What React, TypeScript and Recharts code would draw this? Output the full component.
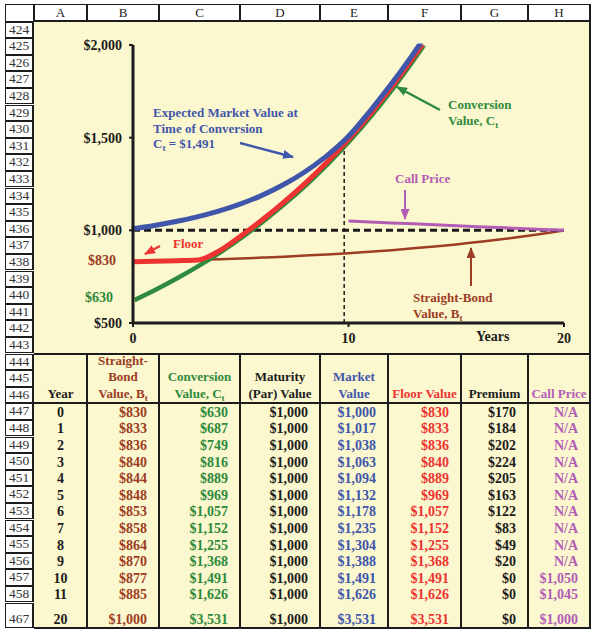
import React from "react";
import { LineChart, Line, XAxis, YAxis, ReferenceLine } from "recharts";

// chart series, one value per year 0..20
const YEARS = [0, 1, 2, 3, 4, 5, 6, 7, 8, 9, 10, 11, 12, 13, 14, 15, 16, 17, 18, 19, 20];
const STRAIGHT_BOND = [830, 833, 836, 840, 844, 848, 853, 858, 864, 870, 877, 885, 893, 903, 913, 924, 937, 950, 965, 982, 1000];
const CONVERSION = [630, 687, 749, 816, 889, 969, 1057, 1152, 1255, 1368, 1491, 1626, 1773, 1932, 2106, 2295, 2502, 2727, 2972, 3240, 3531];
const MARKET_VALUE = [1000, 1017, 1038, 1063, 1094, 1132, 1178, 1235, 1304, 1388, 1491, 1626, 1773, 1932, 2106, 2295, 2502, 2727, 2972, 3240, 3531];
const FLOOR_VALUE = [830, 833, 836, 840, 889, 969, 1057, 1152, 1255, 1368, 1491, 1626, 1773, 1932, 2106, 2295, 2502, 2727, 2972, 3240, 3531];
const PAR_VALUE = [1000, 1000, 1000, 1000, 1000, 1000, 1000, 1000, 1000, 1000, 1000, 1000, 1000, 1000, 1000, 1000, 1000, 1000, 1000, 1000, 1000];
const CALL_PRICE = [null, null, null, null, null, null, null, null, null, null, 1050, 1045, 1040, 1035, 1030, 1025, 1020, 1015, 1010, 1005, 1000];

// table rows
const TABLE_YEARS = [0, 1, 2, 3, 4, 5, 6, 7, 8, 9, 10, 11, 20];
const PREMIUM = [170, 184, 202, 224, 205, 163, 122, 83, 49, 20, 0, 0, 0];

const X_TICKS = [0, 10, 20];
const Y_TICKS = [500, 1000, 1500, 2000];
const COLUMN_LETTERS = ["A", "B", "C", "D", "E", "F", "G", "H"];
const ROW_NUMBERS = [424, 425, 426, 427, 428, 429, 430, 431, 432, 433, 434, 435, 436, 437, 438, 439, 440, 441, 442, 443, 444, 445, 446, 447, 448, 449, 450, 451, 452, 453, 454, 455, 456, 457, 458, 467];

const FONT = '"Liberation Serif", "Times New Roman", serif';
const BG = "#FBF7CE";
const INK = "#1c1c1c";
const BLUE = "#3F56AB";
const GREEN = "#2E8A3C";
const RED = "#EE3333";
const BROWN = "#9C3D24";
const MAGENTA = "#B35CB6";

const COL_X = [34, 87, 159, 240, 320, 388, 461, 528, 590];
const ROW_TOP = 21.5;
const ROW_H = 16.6;

const money = (v: number) => `$${v.toLocaleString("en-US")}`;

const Sub = () => (
  <span style={{ fontSize: 9, position: "relative", top: 3, lineHeight: 0 }}>t</span>
);

const HEADERS: { lines: React.ReactNode[]; color: string }[] = [
  { lines: ["Year"], color: INK },
  { lines: ["Straight-", "Bond", <>Value, B<Sub /></>], color: BROWN },
  { lines: ["Conversion", <>Value, C<Sub /></>], color: GREEN },
  { lines: ["Maturity", "(Par) Value"], color: INK },
  { lines: ["Market", "Value"], color: BLUE },
  { lines: ["Floor Value"], color: RED },
  { lines: ["Premium"], color: INK },
  { lines: ["Call Price"], color: MAGENTA },
];

const rowTop = (n: number) => (n === 467 ? ROW_TOP + 35 * ROW_H : ROW_TOP + (n - 424) * ROW_H);
const rowHeight = (n: number) => (n === 467 ? 25 : ROW_H);

export default function App() {
  const chartData = YEARS.map((year, i) => ({
    year,
    bond: STRAIGHT_BOND[i],
    conversion: CONVERSION[i],
    market: MARKET_VALUE[i],
    floor: FLOOR_VALUE[i],
    par: PAR_VALUE[i],
    call: CALL_PRICE[i],
  }));

  const tableRows = TABLE_YEARS.map((year, r) => [
    { text: String(year), color: INK, align: "center" },
    { text: money(STRAIGHT_BOND[year]), color: BROWN, align: "right" },
    { text: money(CONVERSION[year]), color: GREEN, align: "right" },
    { text: money(PAR_VALUE[year]), color: INK, align: "right" },
    { text: money(MARKET_VALUE[year]), color: BLUE, align: "right" },
    { text: money(FLOOR_VALUE[year]), color: RED, align: "right" },
    { text: money(PREMIUM[r]), color: INK, align: "right" },
    { text: CALL_PRICE[year] == null ? "N/A" : money(CALL_PRICE[year] as number), color: MAGENTA, align: "right" },
  ]);

  const tick = { fontFamily: FONT, fontWeight: 700, fontSize: 14, fill: INK };

  return (
    <div style={{ position: "relative", width: 595, height: 631, background: "#fff", fontFamily: FONT, overflow: "hidden" }}>
      <style>{`body{margin:0} .mv-line{transform:translate(-1.5px,-1.5px)} .cv-line{transform:translate(1.5px,1.2px)}`}</style>

      {/* sheet background */}
      <div style={{ position: "absolute", left: 34, top: ROW_TOP, width: 556, height: 607, background: BG }} />

      {/* column letters */}
      <div style={{ position: "absolute", left: 5, top: 4, width: 29, height: 17.5, border: `1px solid ${INK}`, boxSizing: "border-box", background: "#fff" }} />
      {COLUMN_LETTERS.map((c, i) => (
        <div
          key={c}
          style={{
            position: "absolute", left: COL_X[i], top: 4, width: COL_X[i + 1] - COL_X[i], height: 17.5,
            border: `1px solid ${INK}`, borderBottom: `2px solid ${INK}`, boxSizing: "border-box", background: "#fff",
            textAlign: "center", fontSize: 13, lineHeight: "15px", color: INK,
          }}
        >
          {c}
        </div>
      ))}

      {/* row numbers */}
      {ROW_NUMBERS.map((n) => (
        <div
          key={n}
          style={{
            position: "absolute", left: 5, top: rowTop(n), width: 29, height: rowHeight(n),
            border: `1px solid ${INK}`, borderRight: `2px solid ${INK}`, boxSizing: "border-box", background: "#fff",
            textAlign: "center", fontSize: 13.5, lineHeight: n === 467 ? "30px" : "14.6px", color: "#333",
            overflow: "hidden",
          }}
        >
          {n}
        </div>
      ))}

      {/* table frame */}
      <div style={{ position: "absolute", left: 34, top: 352.5, width: 556, height: 2, background: INK }} />
      <div style={{ position: "absolute", left: 34, top: 402, width: 556, height: 2, background: INK }} />
      <div style={{ position: "absolute", left: 34, top: 626.5, width: 557, height: 2, background: INK }} />
      <div style={{ position: "absolute", left: 589, top: 4, width: 2, height: 624.5, background: INK }} />
      {COL_X.slice(1, 8).map((x) => (
        <div key={x} style={{ position: "absolute", left: x - 1, top: 353, width: 2, height: 275, background: INK }} />
      ))}

      {/* table headers */}
      {HEADERS.map((h, i) => (
        <div
          key={i}
          style={{
            position: "absolute", left: COL_X[i], top: 352.5, width: COL_X[i + 1] - COL_X[i], height: 3 * ROW_H,
            display: "flex", flexDirection: "column", justifyContent: "flex-end", alignItems: "center",
            fontSize: 13, fontWeight: 700, color: h.color, whiteSpace: "nowrap",
          }}
        >
          {h.lines.map((l, k) => (
            <div key={k} style={{ lineHeight: `${ROW_H}px`, height: ROW_H }}>{l}</div>
          ))}
        </div>
      ))}

      {/* table body */}
      {tableRows.map((cells, r) => {
        const top = (r < 12 ? ROW_TOP + (23 + r) * ROW_H : 610.5) + 1.5;
        return cells.map((c, i) => (
          <div
            key={`${r}-${i}`}
            style={{
              position: "absolute", left: COL_X[i], top, width: COL_X[i + 1] - COL_X[i], height: ROW_H,
              lineHeight: `${ROW_H}px`, fontSize: 14, fontWeight: 700, color: c.color,
              textAlign: c.align as "center" | "right", paddingRight: c.align === "right" ? 12 : 0,
              boxSizing: "border-box", whiteSpace: "nowrap",
            }}
          >
            {c.text}
          </div>
        ));
      })}

      {/* chart */}
      <div style={{ position: "absolute", left: 0, top: 0, zIndex: 1 }}>
        <LineChart
          width={595}
          height={360}
          data={chartData}
          margin={{ top: 45, right: 31, bottom: 7, left: 73 }}
          style={{ fontFamily: FONT }}
        >
          <XAxis
            dataKey="year"
            type="number"
            domain={[0, 20]}
            ticks={X_TICKS}
            height={30}
            tickSize={4}
            tickMargin={6}
            allowDataOverflow
            axisLine={{ stroke: INK, strokeWidth: 3 }}
            tickLine={{ stroke: INK, strokeWidth: 2 }}
            tick={tick}
          />
          <YAxis
            type="number"
            domain={[500, 2000]}
            ticks={Y_TICKS}
            width={60}
            tickSize={4}
            tickMargin={7}
            allowDataOverflow
            tickFormatter={money}
            axisLine={{ stroke: INK, strokeWidth: 3 }}
            tickLine={{ stroke: INK, strokeWidth: 2 }}
            tick={tick}
          />
          <ReferenceLine
            segment={[{ x: 9.8, y: 500 }, { x: 9.8, y: MARKET_VALUE[10] }]}
            stroke={INK}
            strokeWidth={1.5}
            strokeDasharray="4 3"
          />
          <Line dataKey="bond" type="monotone" stroke={BROWN} strokeWidth={2.5} dot={false} isAnimationActive={false} />
          <Line dataKey="par" type="linear" stroke={INK} strokeWidth={3} strokeDasharray="7 4" dot={false} isAnimationActive={false} />
          <Line dataKey="call" type="linear" stroke={MAGENTA} strokeWidth={3} dot={false} isAnimationActive={false} />
          <Line dataKey="conversion" className="cv-line" type="monotone" stroke={GREEN} strokeWidth={4.5} dot={false} isAnimationActive={false} />
          <Line dataKey="floor" type="monotone" stroke={RED} strokeWidth={5} dot={false} isAnimationActive={false} />
          <Line dataKey="market" className="mv-line" type="monotone" stroke={BLUE} strokeWidth={5} dot={false} isAnimationActive={false} />
        </LineChart>
      </div>

      {/* annotations */}
      <svg width={595} height={631} style={{ position: "absolute", left: 0, top: 0, zIndex: 2, pointerEvents: "none" }}
        fontFamily={FONT} fontWeight={700} fontSize={13}>
        <defs>
          {[["blue", BLUE], ["green", GREEN], ["red", RED], ["brown", BROWN], ["magenta", MAGENTA]].map(([k, c]) => (
            <marker key={k} id={`ah-${k}`} markerUnits="userSpaceOnUse" markerWidth={11} markerHeight={9} refX={10} refY={4.5} orient="auto">
              <path d="M0,0 L11,4.5 L0,9 z" fill={c} />
            </marker>
          ))}
        </defs>

        <text fill={BLUE}>
          <tspan x={153} y={117}>Expected Market Value at</tspan>
          <tspan x={153} y={133}>Time of Conversion</tspan>
          <tspan x={153} y={148}>C</tspan>
          <tspan fontSize={9} dy={3}>t</tspan>
          <tspan dy={-3}> = $1,491</tspan>
        </text>
        <line x1={240} y1={143} x2={293} y2={157} stroke={BLUE} strokeWidth={2.5} markerEnd="url(#ah-blue)" />

        <text fill={GREEN}>
          <tspan x={448} y={109}>Conversion</tspan>
          <tspan x={448} y={125}>Value, C</tspan>
          <tspan fontSize={9} dy={3}>t</tspan>
        </text>
        <line x1={440} y1={110} x2={397} y2={87} stroke={GREEN} strokeWidth={2.5} markerEnd="url(#ah-green)" />

        <text x={395} y={183} fill={MAGENTA}>Call Price</text>
        <line x1={405} y1={190} x2={405} y2={219} stroke={MAGENTA} strokeWidth={2} markerEnd="url(#ah-magenta)" />

        <text x={173} y={248} fill={RED}>Floor</text>
        <line x1={160} y1={246} x2={145} y2={254} stroke={RED} strokeWidth={2} markerEnd="url(#ah-red)" />

        <text fill={BROWN}>
          <tspan x={413} y={302}>Straight-Bond</tspan>
          <tspan x={413} y={318}>Value, B</tspan>
          <tspan fontSize={9} dy={3}>t</tspan>
        </text>
        <line x1={471} y1={286} x2={471} y2={248} stroke={BROWN} strokeWidth={2} markerEnd="url(#ah-brown)" />

        <text x={116} y={265} textAnchor="end" fill={BROWN} fontSize={14}>$830</text>
        <text x={113} y={302} textAnchor="end" fill={GREEN} fontSize={14}>$630</text>
        <text x={476} y={341} fill={INK} fontSize={14}>Years</text>
      </svg>
    </div>
  );
}
